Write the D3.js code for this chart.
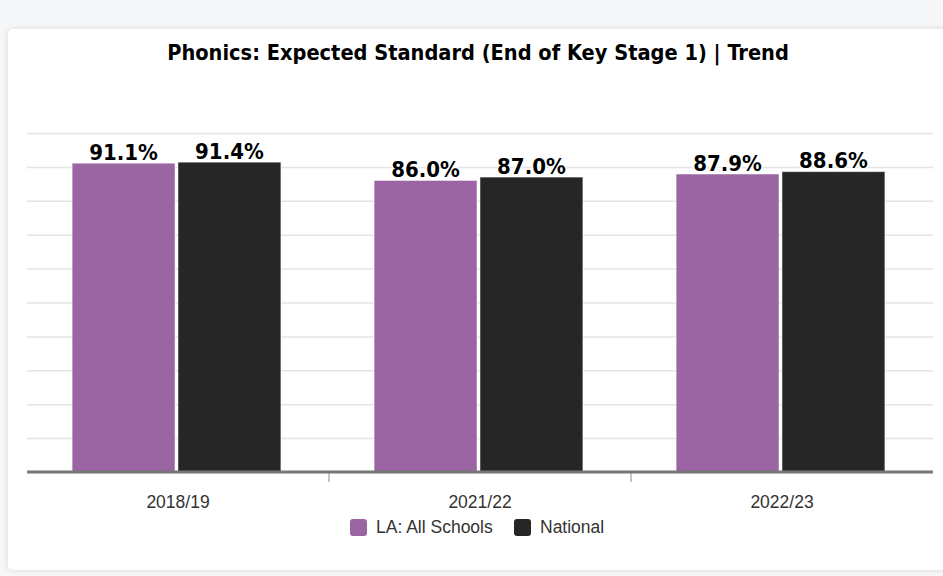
<!DOCTYPE html>
<html>
<head>
<meta charset="utf-8">
<style>
    body {
        margin: 0;
        background: #f6f7f8;
        width: 943px;
        height: 576px;
        overflow: hidden;
    }
    .card {
        position: absolute;
        left: 8px;
        top: 29px;
        width: 950px;
        height: 541px;
        background: #fff;
        border-radius: 5px;
        box-shadow: 0 0 6px rgba(0, 0, 0, .12);
    }
    svg {
        position: absolute;
        left: 0;
        top: 0;
    }
    .title {
        font-family: 'DejaVu Sans Condensed', 'DejaVu Sans', sans-serif;
        font-weight: bold;
        font-size: 21.6px;
        fill: #000;
    }
    .grid line {
        stroke: #e4e4e4;
        stroke-width: 1.5;
    }
    .grid .domain { display: none; }
    .x .tick text {
        font-family: 'Liberation Sans', Arial, sans-serif;
        font-size: 17.5px;
        fill: #333;
    }
    .value {
        font-family: 'DejaVu Sans Condensed', 'DejaVu Sans', sans-serif;
        font-weight: bold;
        font-size: 22px;
        fill: #000;
        stroke: #fff;
        stroke-width: 3px;
        paint-order: stroke;
        stroke-linejoin: round;
    }
    .legend text {
        font-family: 'Liberation Sans', Arial, sans-serif;
        font-size: 17.5px;
        fill: #333;
    }
</style>
</head>
<body>
<div class="card"></div>
<svg width="943" height="576"></svg>

<script src="https://cdn.jsdelivr.net/npm/d3@7"></script>
<script>
    // values
    let years = ["2018/19", "2021/22", "2022/23"]
    let seriesNames = ["LA: All Schools", "National"]
    let laValues = [91.1, 86.0, 87.9]
    let nationalValues = [91.4, 87.0, 88.6]
    let seriesColors = ["#9b64a3", "#262626"]
    let gridValues = [0, 10, 20, 30, 40, 50, 60, 70, 80, 90, 100]

    let data = years.map((yr, i) => ({
        year: yr,
        values: [laValues[i], nationalValues[i]]
    }))

    let margin = { top: 133, right: 10, bottom: 104, left: 27 }
    let width = 943
    let height = 576

    let svg = d3.select("svg")

    svg.append("text")
        .attr("class", "title")
        .attr("x", 478)
        .attr("y", 60)
        .attr("text-anchor", "middle")
        .text("Phonics: Expected Standard (End of Key Stage 1) | Trend")

    let x = d3.scaleBand()
        .domain(years)
        .range([margin.left, width - margin.right])
        .paddingInner(0)
        .paddingOuter(0)

    let x1 = d3.scaleBand()
        .domain(seriesNames)
        .range([0, x.bandwidth()])
        .paddingOuter(0.44)
        .paddingInner(0.028)

    let y = d3.scaleLinear()
        .domain([0, 100])
        .range([height - margin.bottom, margin.top])

    let color = d3.scaleOrdinal()
        .domain(seriesNames)
        .range(seriesColors)

    // gridlines
    svg.append("g")
        .attr("class", "grid")
        .attr("transform", `translate(${margin.left},0)`)
        .call(d3.axisLeft(y).tickValues(gridValues.slice(1)).tickSize(-(width - margin.left - margin.right)).tickFormat(""))

    // bars
    let groups = svg.append("g")
        .selectAll("g")
        .data(data)
        .join("g")
        .attr("transform", d => `translate(${x(d.year) - 1.5},0)`)

    groups.selectAll("rect")
        .data(d => d.values.map((v, i) => ({ key: seriesNames[i], value: v })))
        .join("rect")
        .attr("x", d => x1(d.key))
        .attr("width", x1.bandwidth())
        .attr("y", d => y(d.value))
        .attr("height", d => y(0) - y(d.value))
        .attr("fill", d => color(d.key))
        .attr("stroke", "#ffffff")
        .attr("stroke-opacity", 0.5)
        .attr("stroke-width", 1)

    groups.selectAll(".value")
        .data(d => d.values.map((v, i) => ({ key: seriesNames[i], value: v })))
        .join("text")
        .attr("class", "value")
        .attr("x", d => x1(d.key) + x1.bandwidth() / 2)
        .attr("y", d => y(d.value) - 3.5)
        .attr("text-anchor", "middle")
        .text(d => d.value.toFixed(1) + "%")

    // x axis
    let xAxis = svg.append("g")
        .attr("class", "x axis")
        .attr("transform", `translate(0,${y(0)})`)
        .call(d3.axisBottom(x).tickSize(0).tickPadding(24))

    xAxis.select(".domain").remove()

    // separator ticks between categories
    xAxis.selectAll(".sep")
        .data(years.slice(1))
        .join("line")
        .attr("class", "sep")
        .attr("x1", d => x(d))
        .attr("x2", d => x(d))
        .attr("y1", 0)
        .attr("y2", 10)
        .attr("stroke", "#8a8a8a")

    xAxis.append("line")
        .attr("x1", margin.left)
        .attr("x2", width - margin.right)
        .attr("y1", 0)
        .attr("y2", 0)
        .attr("stroke", "#777")
        .attr("stroke-width", 3)

    // legend
    let legend = svg.append("g")
        .attr("class", "legend")
        .attr("transform", "translate(350,519)")

    let legendX = [0, 164]
    let items = legend.selectAll("g")
        .data(seriesNames)
        .join("g")
        .attr("transform", (d, i) => `translate(${legendX[i]},0)`)

    items.append("rect")
        .attr("width", 17)
        .attr("height", 17)
        .attr("rx", 3)
        .attr("fill", d => color(d))

    items.append("text")
        .attr("x", 26)
        .attr("y", 14)
        .text(d => d)
</script>
</body>
</html>
